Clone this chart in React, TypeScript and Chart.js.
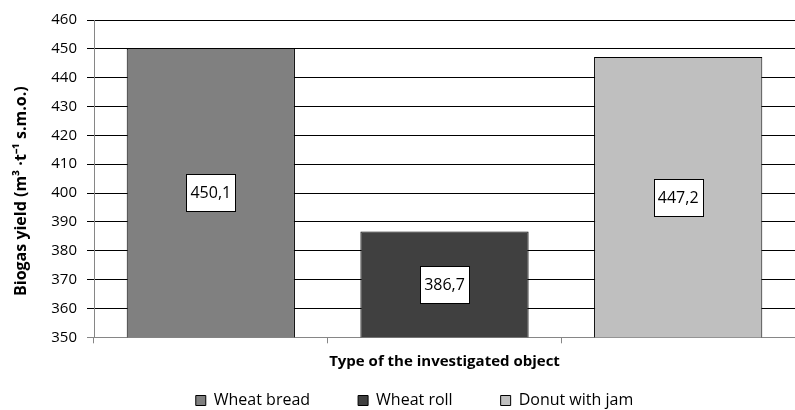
import React, { useEffect, useRef } from 'react';
import { Chart, registerables } from 'chart.js';

Chart.register(...registerables);

const categories = ['Wheat bread', 'Wheat roll', 'Donut with jam'];
const seriesNames = ['Wheat bread', 'Wheat roll', 'Donut with jam'];
const yieldValues = [450.1, 386.7, 447.2];
const seriesColors = ['#808080', '#404040', '#BFBFBF'];
const yMin = 350;
const yMax = 460;
const yStep = 10;
const yTitle = 'Biogas yield (m³ ·t⁻¹ s.m.o.)';
const xTitle = 'Type of the investigated object';

const FONT = '"Open Sans", "Liberation Sans", sans-serif';

const valueLabels = {
  id: 'valueLabels',
  afterDatasetsDraw(chart: any) {
    const ctx = chart.ctx;
    const yScale = chart.scales.y;
    const basePx = yScale.getPixelForValue(yScale.min);
    ctx.save();
    ctx.font = `16px ${FONT}`;
    ctx.textAlign = 'center';
    ctx.textBaseline = 'middle';
    chart.data.datasets.forEach((ds: any, di: number) => {
      const meta = chart.getDatasetMeta(di);
      meta.data.forEach((el: any, idx: number) => {
        const v = ds.data[idx];
        if (v === null || v === undefined) return;
        const x = el.x;
        const base = Math.min(el.base, basePx);
        const cy = (el.y + base) / 2;
        const text = Number(v).toFixed(1).replace('.', ',');
        const w = Math.round(ctx.measureText(text).width + 8);
        const h = 37;
        const left = Math.round(x - w / 2) + 0.5;
        const top = Math.round(cy - h / 2) + 0.5;
        ctx.fillStyle = '#ffffff';
        ctx.fillRect(left, top, w, h);
        ctx.strokeStyle = '#000000';
        ctx.lineWidth = 1;
        ctx.strokeRect(left, top, w, h);
        ctx.fillStyle = '#000000';
        ctx.fillText(text, x, cy + 1);
      });
    });
    ctx.restore();
  },
};

const legendShift = {
  id: 'legendShift',
  afterLayout(chart: any) {
    const lg = chart.legend;
    if (lg) {
      lg.left += 17;
      lg.right += 17;
    }
  },
};

export default function App() {
  const canvasRef = useRef<HTMLCanvasElement | null>(null);

  useEffect(() => {
    document.body.style.margin = '0';
    const canvas = canvasRef.current;
    if (!canvas) return;

    const datasets = seriesNames.map((name, i) => ({
      label: name,
      data: categories.map((_, j) => (j === i ? yieldValues[i] : null)),
      backgroundColor: seriesColors[i],
      borderColor: '#000000',
      borderWidth: 1,
      grouped: false,
      barPercentage: 0.72,
      categoryPercentage: 1,
    }));

    const chart = new Chart(canvas, {
      type: 'bar',
      data: { labels: categories, datasets },
      plugins: [valueLabels, legendShift],
      options: {
        animation: false,
        responsive: true,
        maintainAspectRatio: false,
        layout: { padding: { left: 0, right: 0, top: 20, bottom: -8.5 } },
        plugins: {
          legend: {
            position: 'bottom',
            labels: {
              boxWidth: 10,
              boxHeight: 10,
              padding: 48,
              color: '#000000',
              font: { family: FONT, size: 16 },
            },
          },
          tooltip: { enabled: false },
        },
        scales: {
          x: {
            grid: { display: true, drawOnChartArea: false, drawTicks: true, tickLength: 6, color: '#868686' },
            border: { display: true, color: '#868686', width: 1 },
            ticks: { display: false },
            title: {
              display: true,
              text: xTitle,
              color: '#000000',
              font: { family: FONT, size: 15, weight: 'bold' },
              padding: { top: 9.6, bottom: -26.4 },
            },
          },
          y: {
            min: yMin,
            max: yMax,
            afterFit(scale: any) {
              scale.width = 94;
            },
            ticks: { stepSize: yStep, padding: 10, color: '#000000', font: { family: FONT, size: 15 } },
            grid: {
              drawTicks: true,
              tickLength: 7,
              color: (c: any) => (c.tick && c.tick.value === yMin ? '#868686' : '#000000'),
            },
            border: { display: true, color: '#868686', width: 1 },
            title: {
              display: true,
              text: yTitle + '\u00A0\u00A0\u00A0\u00A0\u00A0\u00A0',
              color: '#000000',
              font: { family: FONT, size: 16, weight: 'bold' },
              padding: { top: 12, bottom: 0 },
            },
          },
        },
      },
    } as any);

    return () => chart.destroy();
  }, []);

  return (
    <div style={{ position: 'relative', width: '795px', height: '410px' }}>
      <canvas ref={canvasRef} />
    </div>
  );
}
